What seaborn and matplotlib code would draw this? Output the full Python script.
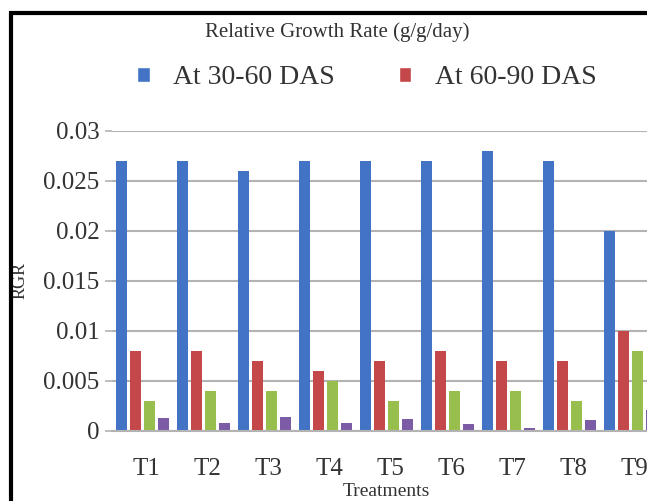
import matplotlib
matplotlib.use("Agg")
import matplotlib.pyplot as plt
from matplotlib.patches import Rectangle, Patch
from matplotlib.transforms import ScaledTranslation
import pandas as pd
import seaborn as sns

treatments = ["T1", "T2", "T3", "T4", "T5", "T6", "T7", "T8", "T9"]
rgr_30_60 = [0.027, 0.027, 0.026, 0.027, 0.027, 0.027, 0.028, 0.027, 0.020]
rgr_60_90 = [0.008, 0.008, 0.007, 0.006, 0.007, 0.008, 0.007, 0.007, 0.010]
rgr_90_120 = [0.003, 0.004, 0.004, 0.005, 0.003, 0.004, 0.004, 0.003, 0.008]
rgr_120_h = [0.0013, 0.0008, 0.0014, 0.0008, 0.0012, 0.0007, 0.0003, 0.0011, 0.0021]
series_names = ["At 30-60 DAS", "At 60-90 DAS", "At 90-120 DAS", "At 120 DAS-harvest"]
y_ticks = [0, 0.005, 0.01, 0.015, 0.02, 0.025, 0.03]
y_tick_labels = ["0", "0.005", "0.01", "0.015", "0.02", "0.025", "0.03"]

colors = ["#4273C5", "#C4474A", "#98BE4E", "#7C5CA6"]

df = pd.DataFrame({
    "Treatment": treatments * 4,
    "Stage": sum([[s] * len(treatments) for s in series_names], []),
    "RGR": rgr_30_60 + rgr_60_90 + rgr_90_120 + rgr_120_h,
})

sns.set_theme(style="white")
plt.rcParams["font.family"] = ["Liberation Serif", "DejaVu Serif"]

W, H = 647, 501
fig = plt.figure(figsize=(W / 100, H / 100), dpi=100)
fig.patch.set_facecolor("white")

# plot area in pixel terms, extending past the right edge of the canvas
left_px, right_px, bottom_px, top_px = 112, 661, 430.5, 130.5
ax = fig.add_axes([left_px / W, 1 - bottom_px / H,
                   (right_px - left_px) / W, (bottom_px - top_px) / H])

sns.barplot(data=df, x="Treatment", y="RGR", hue="Stage", order=treatments,
            hue_order=series_names, palette=colors, width=0.92, gap=0.2,
            saturation=1, ax=ax, legend=False, linewidth=0)

ax.set_xlim(-0.5, len(treatments) - 0.5)
ax.set_ylim(0, 0.03)
ax.set_yticks(y_ticks)
ax.set_yticklabels(y_tick_labels)
ax.yaxis.grid(True, color="#B3B3B3", linewidth=1.5)
ax.set_axisbelow(True)
for side in ["left", "right", "top"]:
    ax.spines[side].set_visible(False)
ax.spines["bottom"].set_color("#B3B3B3")
ax.spines["bottom"].set_linewidth(1.5)

txt = "#333333"
ax.tick_params(axis="y", which="both", left=True, length=5, width=1.2,
               color="#B3B3B3", labelsize=18, labelcolor=txt, pad=4)
ax.tick_params(axis="x", bottom=False, labelsize=18, labelcolor=txt, pad=14)
# nudge category labels slightly to the right of the group centres
shift = ScaledTranslation(4 / 100, 0, fig.dpi_scale_trans)
for lbl in ax.get_xticklabels():
    lbl.set_transform(lbl.get_transform() + shift)
ax.set_xlabel("Treatments", fontsize=14, color=txt, labelpad=2)
ax.set_ylabel("RGR", fontsize=13, color=txt)
ax.yaxis.set_label_coords((29 - left_px) / (right_px - left_px), 0.5)

fig.text(337 / W, 1 - 32 / H, "Relative Growth Rate (g/g/day)",
         ha="center", va="center", fontsize=15, color=txt)

handles = [Patch(facecolor=colors[0]), Patch(facecolor=colors[1])]
fig.legend(handles, series_names[:2], loc="center left",
           bbox_to_anchor=(112 / W, 1 - 78 / H), ncol=2, frameon=False,
           fontsize=20, handlelength=0.45, handleheight=0.45,
           handletextpad=0.85, columnspacing=2.3, labelcolor=txt)

# outer frame of the chart area
fig.patches.append(Rectangle((11 / W, -0.1), 2.0, 1.1 - 13 / H,
                             transform=fig.transFigure, fill=False,
                             edgecolor="black", linewidth=3))

fig.savefig("out.png", dpi=100)
